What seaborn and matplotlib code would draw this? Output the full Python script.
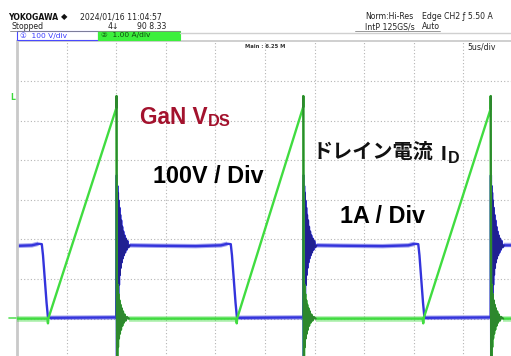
import matplotlib
matplotlib.use("Agg")
import matplotlib.pyplot as plt
from matplotlib.lines import Line2D
from matplotlib.patches import Rectangle
import pandas as pd
import seaborn as sns

# ---- switching-cycle timing (µs) ----
turn_off = [-8.83, 10.03, 28.86, 47.75]   # turn-off instants
fall_start = [2.50, 21.55, 40.45]          # V_DS starts falling (turn-on)
ramp_start = [3.12, 22.15, 40.95]          # I_D starts ramping
peak_current = [5.33, 5.33, 5.35, 5.30]    # A, current at each turn-off

# ---- V_DS levels / shapes (V) ----
vds_high = 185
vds_low = 2
fall_dt = [0.00, 0.12, 0.30, 0.48, 0.62]
fall_v = [188, 160, 100, 40, 3]
hi_dt = [4.0, 8.0]                 # plateau points after turn-off
hi_v = [184, 183]
pre_fall_dt = [-1.0, -0.35]        # slight rise just before turn-on
pre_fall_v = [185, 189]
ring_v_dt = [0.00, 0.02, 0.05, 0.08, 0.11, 0.14, 0.17, 0.21, 0.25, 0.29,
             0.33, 0.37, 0.42, 0.47, 0.52, 0.57, 0.62, 0.68, 0.74, 0.80,
             0.87, 0.94, 1.02, 1.10, 1.20, 1.35]
ring_v = [3, 362, -95, 335, 10, 318, 55, 298, 85, 280,
          110, 262, 128, 248, 142, 232, 152, 220, 160, 210,
          167, 202, 174, 196, 180, 185]

# ---- I_D shapes (A) ----
ring_i_dt = [0.004, 0.03, 0.07, 0.11, 0.15, 0.19, 0.24, 0.29, 0.34, 0.39,
             0.45, 0.51, 0.58, 0.65, 0.73, 0.82, 0.92, 1.05, 1.25]
ring_i = [5.62, 1.35, -0.98, 0.85, -0.72, 0.62, -0.50, 0.46, -0.38, 0.35,
          -0.28, 0.26, -0.18, 0.18, -0.10, 0.10, -0.05, 0.04, 0.0]
dip_dt = [-0.05, 0.0, 0.06]
dip_i = [0.0, -0.12, 0.02]

# ---- build the traces ----
vt, vv, vring, vflat = [], [], [], []
it, ii, iring, iflat = [], [], [], []
for k, t0 in enumerate(turn_off):
    seg_t = [t0 + d for d in ring_v_dt]
    vt += seg_t
    vv += ring_v
    vring.append((seg_t, ring_v))
    gseg_t = [t0] + [t0 + d for d in ring_i_dt]
    gseg_i = [peak_current[k]] + ring_i
    it += gseg_t
    ii += gseg_i
    iring.append((gseg_t, gseg_i))
    t_end = t0 + ring_v_dt[-1]
    if k < len(fall_start):
        fs = fall_start[k]
        ht = [t_end] + [t0 + d for d in hi_dt] + [fs + d for d in pre_fall_dt]
        hv = [ring_v[-1]] + hi_v + pre_fall_v
        vflat.append((ht, hv))
        vt += ht[1:]
        vv += hv[1:]
        vt += [fs + d for d in fall_dt]
        vv += fall_v
        lt = [ramp_start[k] + 0.2, turn_off[k + 1] - 0.1]
        lv = [vds_low, vds_low + 1]
        vflat.append((lt, lv))
        vt += lt
        vv += lv
        rs = ramp_start[k]
        iflat.append(([t0 + ring_i_dt[-1], rs - 0.05], [0.0, 0.0]))
        it += [rs + d for d in dip_dt]
        ii += dip_i
    else:
        vt += [t0 + 4.0]
        vv += [vds_high]
        vflat.append(([t_end, t0 + 4.0], [ring_v[-1], vds_high]))
        it += [t0 + 4.0]
        ii += [0.0]
        iflat.append(([t0 + ring_i_dt[-1], t0 + 4.0], [0.0, 0.0]))

vds = pd.DataFrame({"t": vt, "v": vv})
idr = pd.DataFrame({"t": it, "i": ii})

# ---- figure ----
W, H = 511, 356
sns.set_style("white")
plt.rcParams["font.family"] = ["DejaVu Sans"]
fig = plt.figure(figsize=(W / 100, H / 100), dpi=100)
fig.patch.set_facecolor("white")


def fx(x):
    return x / W


def fy(y):
    return 1 - y / H


left, top, div_w, div_h = 17, 41.4, 49.6, 39.6
ax = fig.add_axes([fx(left), fy(top + 8 * div_h), 10 * div_w / W, 8 * div_h / H])
ax2 = ax.twinx()

ax.set_xlim(0, 50)
ax.set_ylim(-100, 700)       # 100 V/div, ground one division above bottom
ax2.set_ylim(-1, 7)          # 1 A/div, same ground

for a in (ax, ax2):
    a.set_xticks([])
    a.set_yticks([])
    for s in a.spines.values():
        s.set_visible(False)
ax.spines["left"].set_visible(True)
ax.spines["left"].set_color("#c9c9c9")
ax.spines["left"].set_linewidth(2.0)
ax.spines["top"].set_visible(True)
ax.spines["top"].set_color("#cfcfcf")
ax.spines["top"].set_linewidth(1.4)

# dotted graticule
for gx in range(5, 50, 5):
    ax.axvline(gx, color="#b4b4b4", lw=0.8, ls=(0, (1, 2)), zorder=0)
for gy in range(0, 700, 100):
    ax.axhline(gy, color="#b4b4b4", lw=0.8, ls=(0, (1, 2)), zorder=0)

blue = "#3434dc"
green = "#40dc40"
sns.lineplot(data=vds, x="t", y="v", ax=ax, sort=False, estimator=None,
             color=blue, lw=1.7)
for st, sv in vflat:
    ax.plot(st, sv, color=blue, lw=3.2, alpha=0.45, solid_capstyle="butt")
for st, sv in vring:
    ax.plot(st, sv, color="#1c1c80", lw=1.1, alpha=0.8)
sns.lineplot(data=idr, x="t", y="i", ax=ax2, sort=False, estimator=None,
             color=green, lw=1.7)
for st, si in iflat:
    ax2.plot(st, si, color=green, lw=4.0, alpha=0.45, solid_capstyle="butt")
for st, si in iring:
    ax2.plot(st, si, color="#2a7a2a", lw=1.5, alpha=0.85)
for a in (ax, ax2):
    a.set_xlabel("")
    a.set_ylabel("")
    if a.get_legend():
        a.get_legend().remove()

# ---- header ----
hdr = dict(fontsize=5.6, color="#222222", va="center", ha="left")
fig.text(fx(8), fy(17), "YOKOGAWA", fontsize=5.6, weight="bold",
         color="#111111", va="center", ha="left")
fig.text(fx(61), fy(16.5), "\u25c6", fontsize=6.0, color="#111111",
         va="center", ha="left")
fig.text(fx(80), fy(16.5), "2024/01/16 11:04:57", **hdr)
fig.text(fx(11), fy(26.5), "Stopped", **hdr)
fig.text(fx(108), fy(26.5), "4\u2193", **hdr)
fig.text(fx(137), fy(26.5), "90 8.33", **hdr)
fig.text(fx(365), fy(16.5), "Norm:Hi-Res", **hdr)
fig.text(fx(365), fy(26.5), "IntP 125GS/s", **hdr)
fig.text(fx(422), fy(16.5), "Edge CH2 \u0192 5.50 A", **hdr)
fig.text(fx(422), fy(26.5), "Auto", **hdr)
fig.add_artist(Line2D([fx(10), fx(180)], [fy(30.5), fy(30.5)],
                      color="#888888", lw=0.6))
fig.add_artist(Line2D([fx(355), fx(440)], [fy(30.5), fy(30.5)],
                      color="#888888", lw=0.6))
fig.add_artist(Line2D([fx(180), fx(511)], [fy(33), fy(33)],
                      color="#d0d0d0", lw=1.0))

# channel bars
fig.add_artist(Rectangle((fx(17), fy(40)), 81 / W, 9 / H,
                         transform=fig.transFigure, facecolor="white",
                         edgecolor="#4a4aff", lw=0.8))
fig.add_artist(Rectangle((fx(98), fy(40)), 82 / W, 9 / H,
                         transform=fig.transFigure, facecolor="#3cf03c",
                         edgecolor="#3cf03c", lw=0.8))
fig.text(fx(20), fy(35.5), "\u2460  100 V/div", fontsize=5.4,
         color="#3a3aff", va="center", ha="left")
fig.text(fx(101), fy(35.5), "\u2461  1.00 A/div", fontsize=5.4,
         color="#0e4a0e", va="center", ha="left")

fig.text(fx(245), fy(46), "Main : 6.25 M", fontsize=3.8, weight="bold",
         color="#333333", va="center", ha="left")
fig.text(fx(467), fy(47), "5us/div", fontsize=5.6, color="#222222",
         va="center", ha="left")

# level / ground markers
fig.text(fx(10), fy(97), "L", fontsize=5.5, weight="bold", color="#3cd83c",
         va="center", ha="left")
fig.add_artist(Line2D([fx(9), fx(16)], [fy(318), fy(318)],
                      color="#5ce05c", lw=1.2))

# ---- annotations ----
lab = dict(family="Liberation Sans", weight="bold", va="baseline", ha="left")
fig.text(fx(140), fy(123.5), "GaN V", fontsize=16.3, color="#a3122d", **lab)
fig.text(fx(208), fy(126.5), "DS", fontsize=11.8, color="#a3122d", **lab)
fig.text(fx(153), fy(183), "100V / Div", fontsize=16.8, color="black", **lab)
fig.text(fx(313), fy(151), "ドレイン電流", fontsize=14.5, color="#111111",
         family="Noto Sans CJK JP", weight="bold", va="center", ha="left")
fig.text(fx(441), fy(160), "I", fontsize=15, color="#111111", **lab)
fig.text(fx(448), fy(163), "D", fontsize=11.5, color="#111111", **lab)
fig.text(fx(340), fy(223), "1A / Div", fontsize=16.8, color="black", **lab)

fig.savefig("out.png", dpi=100)
